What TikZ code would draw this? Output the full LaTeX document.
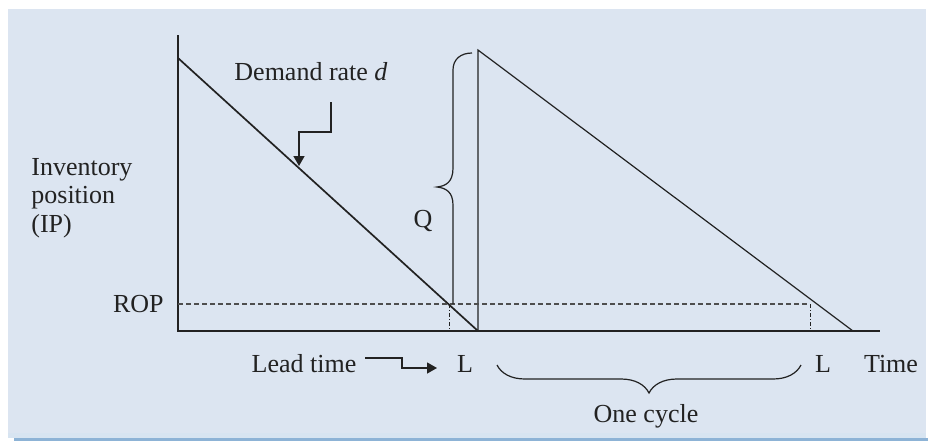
\documentclass[tikz,border=0pt]{standalone}
\usepackage{fontspec}
\setmainfont{Liberation Serif}
\usetikzlibrary{arrows.meta, decorations.pathreplacing, calc}
\definecolor{panelblue}{HTML}{DCE5F1}
\definecolor{edgeblue}{HTML}{8DB3D6}
\definecolor{inkgray}{HTML}{222222}

\begin{document}
\begin{tikzpicture}[x=0.5pt, y=-0.5pt,
    every node/.style={font=\fontsize{13}{14.25}\selectfont, text=inkgray, inner sep=0pt},
    axis/.style={draw=inkgray, line width=0.9pt},
    saw/.style={draw=inkgray, line width=0.6pt},
    ropline/.style={draw=inkgray!80, line width=0.55pt, dash pattern=on 2.5pt off 1.5pt},
    leadline/.style={draw=inkgray, line width=0.5pt, dash pattern=on 2pt off 1pt on 0.5pt off 1pt},
    pointer/.style={draw=inkgray, line width=0.7pt, -{Triangle[length=5pt, width=5.5pt]}}]
    % panel
    \fill[white] (0,0) rectangle (928,441);
    \fill[panelblue] (8,9) rectangle (926,436);
    \fill[edgeblue!35] (8,433) rectangle (926,438);
    \fill[edgeblue] (14,438) rectangle (928,441);

    % axes
    \coordinate (origin) at (178,331);
    \coordinate (ytop) at (178,35);
    \coordinate (xend) at (880,331);
    \draw[axis] (ytop) -- (origin) -- (xend);

    % sawtooth
    \coordinate (start) at (178,58);
    \coordinate (drop) at (478,331);
    \coordinate (peak) at (478,50);
    \coordinate (empty) at (853,331);
    \draw[saw, line width=0.85pt] (start) -- (drop);
    \draw[saw] (drop) -- (peak) -- (empty);

    % reorder point
    \coordinate (rop1) at (449,304);
    \coordinate (rop2) at (810,304);
    \draw[ropline] (origin |- rop1) -- (rop2);
    \draw[leadline] (rop1) -- (rop1 |- origin);
    \draw[leadline] (rop2) -- (rop2 |- origin);

    % labels
    \node[anchor=west, align=left] (ipl) at (31,198) {Inventory\\position\\(IP)};
    \node[anchor=east] (rop) at (164,304) {ROP};
    \node (demand) at (311,72) {Demand rate \textit{d}};
    \node (qlab) at (423,221) {Q};
    \node (lead) at (304,364) {Lead time};
    \node (L1) at (465,364) {L};
    \node (L2) at (823,364) {L};
    \node (time) at (891,364) {Time};
    \node (cycle) at (646,416) {One cycle};

    % demand pointer
    \coordinate (d1) at (331,102);
    \coordinate (d2) at (299,132);
    \coordinate (d3) at (299,166);
    \draw[pointer] (d1) |- (d2) -- (d3);

    % lead time pointer
    \coordinate (l1) at (365,358);
    \coordinate (l2) at (402,368);
    \coordinate (l3) at (437,368);
    \draw[pointer] (l1) -| (l2) -- (l3);

    % Q brace
    \draw[saw] (rop1 -| 453,0) -- (453,205) .. controls (453,192) and (446,188) .. (437,187)
        .. controls (446,186) and (453,182) .. (453,168) -- (453,70)
        .. controls (453,59) and (461,53) .. (472,53);

    % cycle brace
    \draw[saw, decorate, decoration={brace, amplitude=14pt}] (801,365) -- (497,365);
\end{tikzpicture}
\end{document}
